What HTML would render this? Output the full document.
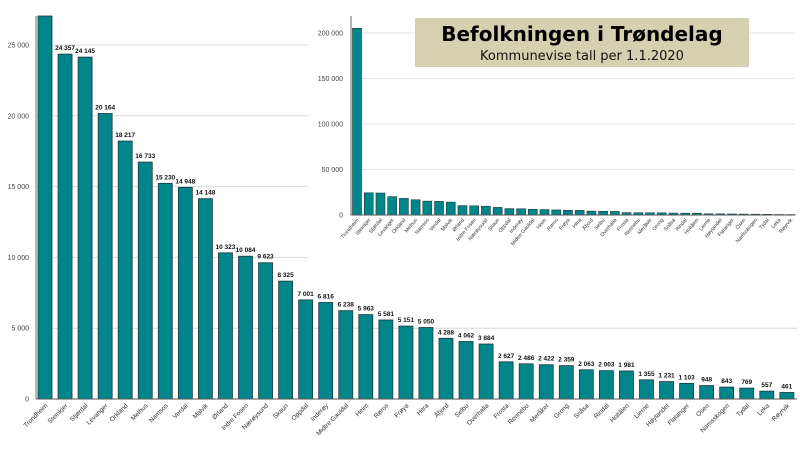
<!DOCTYPE html>
<html><head><meta charset="utf-8"><style>
html,body{margin:0;padding:0;background:#fff;width:800px;height:449px;overflow:hidden}
svg text{font-family:"Liberation Sans",sans-serif}
</style></head><body>
<svg id="c" width="800" height="449" xmlns="http://www.w3.org/2000/svg">
</svg>
<script>
const categories=["Trondheim","Steinkjer","Stjørdal","Levanger","Orkland","Melhus","Namsos","Verdal","Malvik","Ørland","Indre Fosen","Nærøysund","Skaun","Oppdal","Inderøy","Midtre Gauldal","Heim","Røros","Frøya","Hitra","Åfjord","Selbu","Overhalla","Frosta","Rennebu","Meråker","Grong","Snåsa","Rindal","Holtålen","Lierne","Høylandet","Flatanger","Osen","Namsskogen","Tydal","Leka","Røyrvik"];
const population=[205163,24357,24145,20164,18217,16733,15230,14948,14148,10323,10084,9623,8325,7001,6816,6238,5963,5581,5151,5050,4288,4062,3884,2627,2486,2422,2359,2063,2003,1981,1355,1231,1103,948,843,769,557,461];
const valueLabels=["","24 357","24 145","20 164","18 217","16 733","15 230","14 948","14 148","10 323","10 084","9 623","8 325","7 001","6 816","6 238","5 963","5 581","5 151","5 050","4 288","4 062","3 884","2 627","2 486","2 422","2 359","2 063","2 003","1 981","1 355","1 231","1 103","948","843","769","557","461"];
const mainTicks=[0,5000,10000,15000,20000,25000];
const mainTickLabels=["0","5 000","10 000","15 000","20 000","25 000"];
const insetTicks=[0,50000,100000,150000,200000];
const insetTickLabels=["0","50 000","100 000","150 000","200 000"];

const NS="http://www.w3.org/2000/svg";
const svg=document.getElementById('c');
function el(tag,attrs,parent){const e=document.createElementNS(NS,tag);for(const k in attrs)e.setAttribute(k,attrs[k]);(parent||svg).appendChild(e);return e;}
const FILL="#00858a",STROKE="#1d3a3c";
// main axes
const mY=v=>399-v*70.8/5000, mTop=16;
const mX=i=>45+i*20.05;
const gMain=el('g',{});


mainTicks.forEach((t,i)=>{
  if(t>0){const l=el('line',{x1:36,x2:797,y1:mY(t),y2:mY(t),stroke:"#d9d9d9","stroke-width":1},gMain);
  }
  const tx=el('text',{x:29,y:mY(t)+2.5,"font-size":7,"text-anchor":"end",fill:"#444"},gMain);
  tx.textContent=mainTickLabels[i];
  
});
population.forEach((v,i)=>{
  const y=Math.max(mTop,mY(v));const x=mX(i);
  const r=el('rect',{x:x-7,y:y,width:14,height:399-y,fill:FILL,stroke:STROKE,"stroke-width":0.8},gMain);
  
  
  if(valueLabels[i]){const t=el('text',{x:x,y:y-4,"font-size":6.5,"font-weight":"bold","text-anchor":"middle",fill:"#111"},gMain);
  t.textContent=valueLabels[i];
  }
  const c=el('text',{x:x+3,y:406,"font-size":6.5,"text-anchor":"end",fill:"#333",transform:`rotate(-45 ${x+3} 406)`},gMain);
  c.textContent=categories[i];
  
});
const ax=el('line',{x1:36,x2:36,y1:16,y2:399,stroke:"#888","stroke-width":1.2},gMain);

const bx=el('line',{x1:36,x2:797,y1:399,y2:399,stroke:"#555","stroke-width":1},gMain);


// inset
const gIn=el('g',{});


const bg=el('rect',{x:308,y:10,width:492,height:250,fill:"#fff"},gIn);

const iY=v=>215-v*182/200000;
const iX=i=>357+i*11.72;
insetTicks.forEach((t,i)=>{
  if(t>0){const l=el('line',{x1:352,x2:795,y1:iY(t),y2:iY(t),stroke:"#e3e3e3","stroke-width":1},gIn);
  }
  const tx=el('text',{x:343,y:iY(t)+2.5,"font-size":7,"text-anchor":"end",fill:"#444"},gIn);
  tx.textContent=insetTickLabels[i];
  
});
population.forEach((v,i)=>{
  const y=iY(v);const x=iX(i);
  const r=el('rect',{x:x-4.5,y:y,width:9,height:215-y,fill:FILL,stroke:STROKE,"stroke-width":0.6},gIn);
  
  
  const c=el('text',{x:x+2,y:220,"font-size":5.2,"text-anchor":"end",fill:"#333",transform:`rotate(-50 ${x+2} 220)`},gIn);
  c.textContent=categories[i];
  
});
const iax=el('line',{x1:351,x2:351,y1:16,y2:215,stroke:"#666","stroke-width":1},gIn);

const ibx=el('line',{x1:351,x2:795,y1:215,y2:215,stroke:"#555","stroke-width":1},gIn);


// title box
const gT=el('g',{});


el('rect',{x:415,y:18,width:334,height:49,fill:"#d5d0b0"},gT);
const t1=el('text',{x:582,y:41,"font-size":20,"font-weight":"bold","text-anchor":"middle",fill:"#000",style:"font-family:'DejaVu Sans',sans-serif"},gT);
t1.textContent="Befolkningen i Trøndelag";

const t2=el('text',{x:582,y:60,"font-size":13,"text-anchor":"middle",fill:"#111",style:"font-family:'DejaVu Sans',sans-serif"},gT);
t2.textContent="Kommunevise tall per 1.1.2020";

</script>
</body></html>
